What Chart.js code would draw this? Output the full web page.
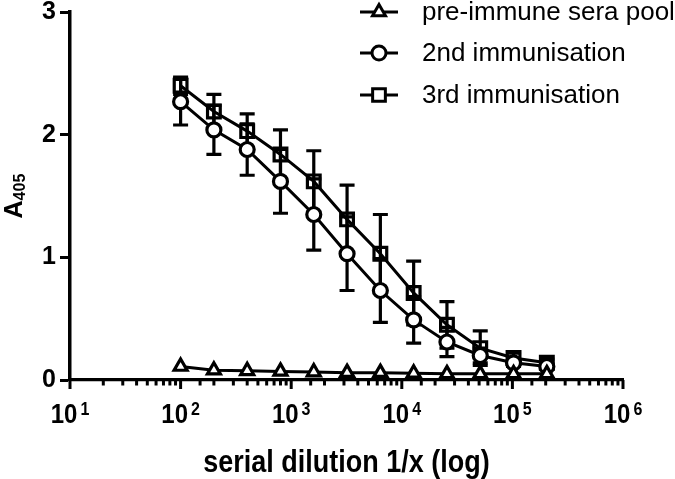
<!DOCTYPE html>
<html>
<head>
<meta charset="utf-8">
<script src="https://cdn.jsdelivr.net/npm/chart.js@4.4.1/dist/chart.umd.min.js"></script>
<style>
  html, body { margin: 0; padding: 0; background: #fff; }
</style>
</head>
<body>
<canvas id="elisaChart" width="675" height="479"></canvas>
<script>
// serial dilution factors (1/x)
const dilutions = [100, 200, 400, 800, 1600, 3200, 6400, 12800, 25600, 51200, 102400, 204800];

const preImmune = [0.11, 0.08, 0.075, 0.07, 0.065, 0.06, 0.06, 0.055, 0.05, 0.05, 0.05, 0.05];

const secondImm = [2.27, 2.04, 1.88, 1.62, 1.35, 1.03, 0.73, 0.49, 0.31, 0.20, 0.14, 0.11];
const secondErr = [0.19, 0.20, 0.21, 0.26, 0.29, 0.30, 0.26, 0.19, 0.12, 0.06, 0.03, 0.02];

const thirdImm = [2.40, 2.19, 2.03, 1.84, 1.62, 1.31, 1.03, 0.71, 0.45, 0.26, 0.18, 0.14];
const thirdErr = [0.07, 0.14, 0.14, 0.20, 0.25, 0.28, 0.32, 0.26, 0.19, 0.14, 0.04, 0.03];

const seriesLabels = ['pre-immune sera pool', '2nd immunisation', '3rd immunisation'];
const yTicks = [0, 1, 2, 3];

const FONT = "'Liberation Sans', Arial, sans-serif";
const STRETCH = 1.15; // the reference type is a bit taller than Arial

function toPoints(values) {
    return dilutions.map((x, i) => ({ x: x, y: values[i] }));
}

function tallText(ctx, text, x, y) {
    ctx.save();
    ctx.translate(x, y);
    ctx.scale(1, STRETCH);
    ctx.fillText(text, 0, 0);
    ctx.restore();
}

// error bars, drawn under the lines and markers
const errorBars = {
    id: 'errorBars',
    beforeDatasetsDraw(chart) {
        const ctx = chart.ctx;
        const y = chart.scales.y;
        ctx.save();
        ctx.strokeStyle = '#000';
        ctx.lineWidth = 3.2;
        chart.data.datasets.forEach((ds, i) => {
            if (!ds.errors) return;
            const meta = chart.getDatasetMeta(i);
            meta.data.forEach((pt, j) => {
                const e = ds.errors[j];
                if (!e) return;
                const top = y.getPixelForValue(ds.data[j].y + e);
                const bot = y.getPixelForValue(ds.data[j].y - e);
                ctx.beginPath();
                ctx.moveTo(pt.x, top);
                ctx.lineTo(pt.x, bot);
                ctx.moveTo(pt.x - 7.5, top);
                ctx.lineTo(pt.x + 7.5, top);
                ctx.moveTo(pt.x - 7.5, bot);
                ctx.lineTo(pt.x + 7.5, bot);
                ctx.stroke();
            });
        });
        ctx.restore();
    }
};

// log axis ticks, power-of-ten labels, axis titles and legend
const decorations = {
    id: 'decorations',
    afterDraw(chart) {
        const ctx = chart.ctx;
        const xs = chart.scales.x;
        const area = chart.chartArea;
        ctx.save();
        ctx.strokeStyle = '#000';
        ctx.fillStyle = '#000';
        ctx.lineWidth = 3;

        xs.ticks.forEach(t => {
            const exp = Math.log10(t.value);
            const major = Math.abs(exp - Math.round(exp)) < 1e-9;
            const px = xs.getPixelForValue(t.value);
            ctx.beginPath();
            ctx.moveTo(px, area.bottom);
            ctx.lineTo(px, area.bottom + (major ? 9 : 5.5));
            ctx.stroke();
            if (!major) return;
            const base = '10';
            const sup = String(Math.round(exp));
            ctx.font = 'bold 24px ' + FONT;
            const wb = ctx.measureText(base).width;
            ctx.font = 'bold 16px ' + FONT;
            const ws = ctx.measureText(sup).width;
            const start = px - (wb + 3 + ws) / 2;
            ctx.textBaseline = 'alphabetic';
            ctx.textAlign = 'left';
            ctx.font = 'bold 24px ' + FONT;
            tallText(ctx, base, start, 423);
            ctx.font = 'bold 16px ' + FONT;
            tallText(ctx, sup, start + wb + 3, 415);
        });

        // x title
        ctx.font = 'bold 27px ' + FONT;
        ctx.textAlign = 'center';
        ctx.textBaseline = 'middle';
        tallText(ctx, 'serial dilution 1/x (log)', (area.left + area.right) / 2, 463);

        // y title: A with subscript 405
        ctx.save();
        ctx.translate(22, (area.top + area.bottom) / 2);
        ctx.rotate(-Math.PI / 2);
        ctx.textBaseline = 'alphabetic';
        ctx.textAlign = 'left';
        ctx.font = 'bold 25px ' + FONT;
        const wa = ctx.measureText('A').width;
        ctx.font = 'bold 16px ' + FONT;
        const wn = ctx.measureText('405').width;
        const s = -(wa + wn) / 2;
        ctx.font = 'bold 25px ' + FONT;
        ctx.fillText('A', s, 0);
        ctx.font = 'bold 16px ' + FONT;
        ctx.fillText('405', s + wa, 3);
        ctx.restore();

        // legend
        const rows = [12, 53, 95];
        chart.data.datasets.forEach((ds, i) => {
            const yy = rows[i];
            ctx.lineWidth = 3;
            ctx.beginPath();
            ctx.moveTo(360, yy);
            ctx.lineTo(398, yy);
            ctx.stroke();
            ctx.fillStyle = '#fff';
            ctx.strokeStyle = '#000';
            Chart.helpers.drawPoint(ctx, {
                pointStyle: ds.pointStyle,
                radius: ds.pointRadius,
                rotation: 0,
                borderWidth: 3
            }, 379, yy);
            ctx.fillStyle = '#000';
            ctx.font = '26px ' + FONT;
            ctx.textAlign = 'left';
            ctx.textBaseline = 'middle';
            ctx.fillText(ds.label, 422, yy + 1);
        });
        ctx.restore();
    }
};

new Chart(document.getElementById('elisaChart'), {
    type: 'line',
    data: {
        datasets: [
            {
                label: seriesLabels[0],
                data: toPoints(preImmune),
                borderColor: '#000',
                borderWidth: 3,
                pointStyle: 'triangle',
                pointRadius: 7.5,
                pointBorderWidth: 3.2,
                pointBorderColor: '#000',
                pointBackgroundColor: '#fff',
                order: 0
            },
            {
                label: seriesLabels[1],
                data: toPoints(secondImm),
                errors: secondErr,
                borderColor: '#000',
                borderWidth: 3,
                pointStyle: 'circle',
                pointRadius: 7,
                pointBorderWidth: 3.2,
                pointBorderColor: '#000',
                pointBackgroundColor: '#fff',
                order: 1
            },
            {
                label: seriesLabels[2],
                data: toPoints(thirdImm),
                errors: thirdErr,
                borderColor: '#000',
                borderWidth: 3,
                pointStyle: 'rect',
                pointRadius: 9,
                pointBorderWidth: 3.2,
                pointBorderColor: '#000',
                pointBackgroundColor: 'rgba(255,255,255,0)',
                order: 2
            }
        ]
    },
    options: {
        responsive: false,
        animation: false,
        layout: { padding: { top: 10, right: 52, left: 0, bottom: 0 } },
        plugins: {
            legend: { display: false },
            tooltip: { enabled: false }
        },
        scales: {
            x: {
                type: 'logarithmic',
                min: 10,
                max: 1000000,
                grid: { display: false },
                border: { display: true, color: '#000', width: 3.2 },
                ticks: { display: false, autoSkip: false },
                afterFit(scale) {
                    scale.height = 99;
                    scale.paddingLeft = 0;
                    scale.paddingRight = 0;
                }
            },
            y: {
                min: 0,
                max: 3,
                afterBuildTicks(scale) {
                    scale.ticks = yTicks.map(v => ({ value: v }));
                },
                ticks: {
                    color: '#000',
                    padding: 4,
                    font: { family: FONT, size: 25, weight: 'bold' }
                },
                grid: {
                    drawOnChartArea: false,
                    drawTicks: true,
                    tickLength: 10,
                    tickWidth: 3,
                    tickColor: '#000'
                },
                border: { color: '#000', width: 3.5 },
                afterFit(scale) {
                    scale.width = 70;
                    scale.paddingTop = 0;
                    scale.paddingBottom = 0;
                }
            }
        }
    },
    plugins: [errorBars, decorations]
});
</script>
</body>
</html>
